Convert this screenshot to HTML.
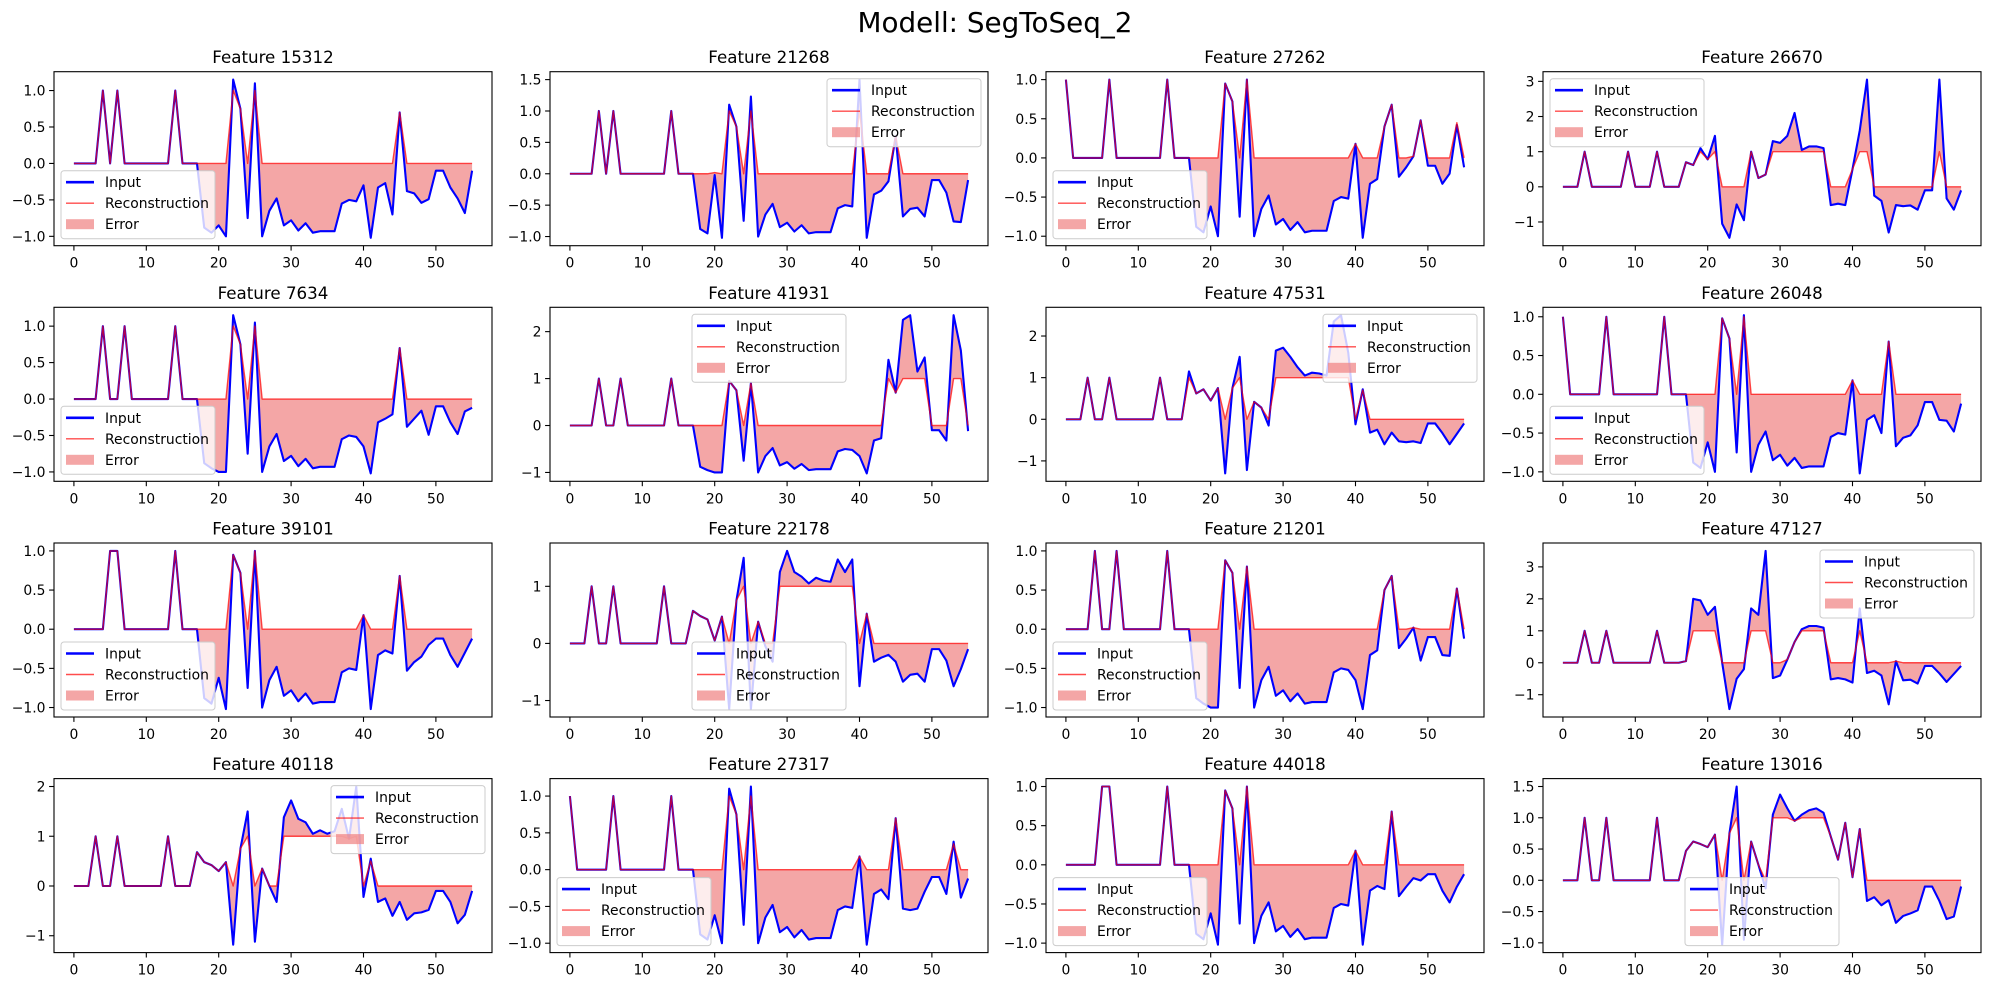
<!DOCTYPE html>
<html>
<head>
<meta charset="utf-8">
<style>
  html,body{margin:0;padding:0;background:#fff;}
  svg{display:block;font-family:"DejaVu Sans","Liberation Sans",sans-serif;}
</style>
</head>
<body>
<svg id="fig" width="1990" height="985" viewBox="0 0 1990 985" xmlns="http://www.w3.org/2000/svg">
  <rect x="0" y="0" width="1990" height="985" fill="#fff"/>
  <text x="995" y="32" text-anchor="middle" font-size="27.8" fill="#000">Modell: SegToSeq_2</text>
</svg>
<script>
// ---- data ----
const featureNames = ["Feature 15312","Feature 21268","Feature 27262","Feature 26670","Feature 7634","Feature 41931","Feature 47531","Feature 26048","Feature 39101","Feature 22178","Feature 21201","Feature 47127","Feature 40118","Feature 27317","Feature 44018","Feature 13016"];
const legendLoc = ["lower left","upper right","lower left","upper left","lower left","upper center","upper right","lower left","lower left","lower center","lower left","upper right","upper right","lower left","lower left","lower center"];
const yTickStep = [0.5,0.5,0.5,1,0.5,1,1,0.5,0.5,1,0.5,1,1,0.5,0.5,0.5];
const xTickValues = [0,10,20,30,40,50];

const input1 = [0,0,0,0,1,0,1,0,0,0, 0,0,0,0,1,0,0,0,-0.88,-0.95, -0.85,-1.0,1.15,0.75,-0.75,1.1,-1.0,-0.65,-0.48,-0.85, -0.78,-0.92,-0.82,-0.95,-0.93,-0.93,-0.93,-0.55,-0.5,-0.52, -0.3,-1.02,-0.33,-0.27,-0.7,0.7,-0.38,-0.41,-0.54,-0.49, -0.1,-0.1,-0.33,-0.48,-0.68,-0.1];
const recon1 = [0,0,0,0,1,0,1,0,0,0, 0,0,0,0,1,0,0,0,0,0, 0,0,1,0.75,0,1,0,0,0,0, 0,0,0,0,0,0,0,0,0,0, 0,0,0,0,0,0.7,0,0,0,0, 0,0,0,0,0,0];
const input2 = [0,0,0,0,1,0,1,0,0,0, 0,0,0,0,1,0,0,0,-0.88,-0.95, -0.02,-1.02,1.1,0.75,-0.75,1.23,-1.0,-0.65,-0.48,-0.85, -0.78,-0.92,-0.82,-0.95,-0.93,-0.93,-0.93,-0.55,-0.5,-0.52, 1.5,-1.02,-0.33,-0.27,-0.12,0.6,-0.68,-0.56,-0.54,-0.68, -0.1,-0.1,-0.3,-0.76,-0.77,-0.1];
const recon2 = [0,0,0,0,1,0,1,0,0,0, 0,0,0,0,1,0,0,0,0,0, 0.02,0,1,0.75,0,1,0,0,0,0, 0,0,0,0,0,0,0,0,0,0, 1,0,0,0,0,0.6,0,0,0,0, 0,0,0,0,0,0];
const input3 = [1,0,0,0,0,0,1,0,0,0, 0,0,0,0,1,0,0,0,-0.88,-0.95, -0.62,-1.0,0.95,0.72,-0.75,1.0,-1.0,-0.65,-0.48,-0.85, -0.78,-0.92,-0.82,-0.95,-0.93,-0.93,-0.93,-0.55,-0.5,-0.52, 0.18,-1.02,-0.33,-0.27,0.4,0.68,-0.24,-0.12,0.02,0.48, -0.1,-0.1,-0.33,-0.2,0.42,-0.12];
const recon3 = [1,0,0,0,0,0,1,0,0,0, 0,0,0,0,1,0,0,0,0,0, 0,0,0.95,0.72,0,1,0,0,0,0, 0,0,0,0,0,0,0,0,0,0, 0.18,0,0,0,0.4,0.68,0,0,0.02,0.48, 0,0,0,0,0.45,0];
const input4 = [0,0,0,1,0,0,0,0,0,1, 0,0,0,1,0,0,0,0.7,0.62,1.1, 0.78,1.45,-1.05,-1.45,-0.5,-0.95,1.0,0.25,0.35,1.3, 1.25,1.45,2.1,1.05,1.15,1.15,1.1,-0.52,-0.48,-0.52, 0.5,1.6,3.05,-0.25,-0.4,-1.3,-0.52,-0.55,-0.53,-0.65, -0.1,-0.1,3.05,-0.33,-0.65,-0.1];
const recon4 = [0,0,0,1,0,0,0,0,0,1, 0,0,0,1,0,0,0,0.7,0.62,1, 0.78,1,0,0,0,0,1,0.25,0.35,1, 1,1,1,1,1,1,1,0,0,0, 0.5,1,1,0,0,0,0,0,0,0, 0,0,1,0,0,0];
const input5 = [0,0,0,0,1,0,0,1,0,0, 0,0,0,0,1,0,0,0,-0.88,-0.95, -1.0,-1.0,1.15,0.75,-0.75,1.05,-1.0,-0.65,-0.48,-0.85, -0.78,-0.92,-0.82,-0.95,-0.93,-0.93,-0.93,-0.55,-0.5,-0.52, -0.65,-1.02,-0.32,-0.27,-0.21,0.7,-0.38,-0.27,-0.16,-0.49, -0.1,-0.1,-0.32,-0.48,-0.17,-0.12];
const recon5 = [0,0,0,0,1,0,0,1,0,0, 0,0,0,0,1,0,0,0,0,0, 0,0,1,0.75,0,1,0,0,0,0, 0,0,0,0,0,0,0,0,0,0, 0,0,0,0,0,0.7,0,0,0,0, 0,0,0,0,0,0];
const input6 = [0,0,0,0,1,0,0,1,0,0, 0,0,0,0,1,0,0,0,-0.88,-0.95, -1.0,-1.0,0.95,0.75,-0.75,0.9,-1.0,-0.65,-0.48,-0.85, -0.78,-0.92,-0.82,-0.95,-0.93,-0.93,-0.93,-0.55,-0.5,-0.52, -0.65,-1.02,-0.32,-0.27,1.4,0.7,2.25,2.35,1.15,1.45, -0.1,-0.1,-0.32,2.35,1.6,-0.12];
const recon6 = [0,0,0,0,1,0,0,1,0,0, 0,0,0,0,1,0,0,0,0,0, 0,0,0.95,0.75,0,0.9,0,0,0,0, 0,0,0,0,0,0,0,0,0,0, 0,0,0,0,1,0.7,1,1,1,1, 0,0,0,1,1,0];
const input7 = [0,0,0,1,0,0,1,0,0,0, 0,0,0,1,0,0,0,1.15,0.62,0.72, 0.45,0.75,-1.3,0.75,1.5,-1.22,0.42,0.28,-0.15,1.65, 1.72,1.5,1.25,1.05,1.12,1.1,1.05,2.35,2.5,1.6, -0.12,0.72,-0.32,-0.25,-0.6,-0.32,-0.53,-0.55,-0.53,-0.57, -0.1,-0.1,-0.33,-0.6,-0.35,-0.1];
const recon7 = [0,0,0,1,0,0,1,0,0,0, 0,0,0,1,0,0,0,1,0.62,0.72, 0.45,0.75,0,0.75,1,0,0.42,0.28,0,1, 1,1,1,1,1,1,1,1,1,1, 0,0.7,0,0,0,0,0,0,0,0, 0,0,0,0,0,0];
const input8 = [1,0,0,0,0,0,1,0,0,0, 0,0,0,0,1,0,0,0,-0.88,-0.95, -0.62,-1.0,0.98,0.72,-0.75,1.02,-1.0,-0.65,-0.48,-0.85, -0.78,-0.92,-0.82,-0.95,-0.93,-0.93,-0.93,-0.55,-0.5,-0.52, 0.18,-1.02,-0.33,-0.27,-0.5,0.68,-0.67,-0.56,-0.53,-0.4, -0.1,-0.1,-0.33,-0.34,-0.48,-0.12];
const recon8 = [1,0,0,0,0,0,1,0,0,0, 0,0,0,0,1,0,0,0,0,0, 0,0,0.98,0.72,0,1,0,0,0,0, 0,0,0,0,0,0,0,0,0,0, 0.18,0,0,0,0,0.68,0,0,0,0, 0,0,0,0,0,0];
const input9 = [0,0,0,0,0,1,1,0,0,0, 0,0,0,0,1,0,0,0,-0.88,-0.95, -0.62,-1.02,0.95,0.72,-0.75,1.0,-1.0,-0.65,-0.48,-0.85, -0.78,-0.92,-0.82,-0.95,-0.93,-0.93,-0.93,-0.55,-0.5,-0.52, 0.18,-1.02,-0.33,-0.27,-0.31,0.68,-0.53,-0.42,-0.35,-0.2, -0.12,-0.12,-0.33,-0.48,-0.3,-0.12];
const recon9 = [0,0,0,0,0,1,1,0,0,0, 0,0,0,0,1,0,0,0,0,0, 0,0,0.95,0.72,0,1,0,0,0,0, 0,0,0,0,0,0,0,0,0,0, 0.18,0,0,0,0,0.68,0,0,0,0, 0,0,0,0,0,0];
const input10 = [0,0,0,1,0,0,1,0,0,0, 0,0,0,1,0,0,0,0.57,0.48,0.42, 0.05,0.47,-1.15,0.75,1.5,-1.15,0.38,-0.05,-0.32,1.25, 1.62,1.25,1.17,1.05,1.15,1.1,1.08,1.47,1.25,1.47, -0.75,0.52,-0.32,-0.25,-0.2,-0.32,-0.67,-0.55,-0.53,-0.67, -0.1,-0.1,-0.3,-0.75,-0.45,-0.1];
const recon10 = [0,0,0,1,0,0,1,0,0,0, 0,0,0,1,0,0,0,0.57,0.48,0.42, 0.05,0.47,0,0.75,1,0,0.38,0,0,1, 1,1,1,1,1,1,1,1,1,1, 0,0.52,0,0,0,0,0,0,0,0, 0,0,0,0,0,0];
const input11 = [0,0,0,0,1,0,0,1,0,0, 0,0,0,0,1,0,0,0,-0.88,-0.95, -1.0,-1.0,0.88,0.72,-0.75,0.8,-1.0,-0.65,-0.48,-0.85, -0.78,-0.92,-0.82,-0.95,-0.93,-0.93,-0.93,-0.55,-0.5,-0.52, -0.65,-1.02,-0.33,-0.27,0.5,0.68,-0.24,-0.12,0.02,-0.4, -0.1,-0.1,-0.33,-0.34,0.52,-0.12];
const recon11 = [0,0,0,0,1,0,0,1,0,0, 0,0,0,0,1,0,0,0,0,0, 0,0,0.88,0.72,0,0.8,0,0,0,0, 0,0,0,0,0,0,0,0,0,0, 0,0,0,0,0.5,0.68,0,0,0.02,0, 0,0,0,0,0.52,0];
const input12 = [0,0,0,1,0,0,1,0,0,0, 0,0,0,1,0,0,0,0.05,2.0,1.95, 1.5,1.75,0,-1.45,-0.5,-0.2,1.7,1.5,3.5,-0.48, -0.4,0.1,0.65,1.05,1.15,1.15,1.1,-0.52,-0.48,-0.52, -0.62,1.7,-0.32,-0.25,-0.4,-1.3,0.05,-0.55,-0.53,-0.65, -0.1,-0.1,-0.33,-0.6,-0.35,-0.1];
const recon12 = [0,0,0,1,0,0,1,0,0,0, 0,0,0,1,0,0,0,0.05,1,1, 1,1,0,0,0,0,1,1,1,0, 0,0.1,0.65,1,1,1,1,0,0,0, 0,1,0,0,0,0,0.05,0,0,0, 0,0,0,0,0,0];
const input13 = [0,0,0,1,0,0,1,0,0,0, 0,0,0,1,0,0,0,0.68,0.48,0.42, 0.3,0.48,-1.18,0.75,1.5,-1.12,0.35,0,-0.32,1.38, 1.72,1.35,1.28,1.05,1.12,1.05,1.1,1.55,0.95,2.0, -0.22,0.55,-0.32,-0.25,-0.6,-0.32,-0.68,-0.55,-0.53,-0.48, -0.1,-0.1,-0.32,-0.75,-0.58,-0.1];
const recon13 = [0,0,0,1,0,0,1,0,0,0, 0,0,0,1,0,0,0,0.68,0.48,0.42, 0.3,0.48,0,0.75,1,0,0.35,0,0,1, 1,1,1,1,1,1,1,1,0.95,1, 0,0.5,0,0,0,0,0,0,0,0, 0,0,0,0,0,0];
const input14 = [1,0,0,0,0,0,1,0,0,0, 0,0,0,0,1,0,0,0,-0.88,-0.95, -0.62,-1.0,1.1,0.75,-0.75,1.13,-1.0,-0.65,-0.48,-0.85, -0.78,-0.92,-0.82,-0.95,-0.93,-0.93,-0.93,-0.55,-0.5,-0.52, 0.18,-1.02,-0.33,-0.27,-0.4,0.7,-0.53,-0.55,-0.53,-0.3, -0.1,-0.1,-0.33,0.38,-0.38,-0.12];
const recon14 = [1,0,0,0,0,0,1,0,0,0, 0,0,0,0,1,0,0,0,0,0, 0,0,1,0.75,0,1,0,0,0,0, 0,0,0,0,0,0,0,0,0,0, 0.18,0,0,0,0,0.7,0,0,0,0, 0,0,0,0.35,0,0];
const input15 = [0,0,0,0,0,1,1,0,0,0, 0,0,0,0,1,0,0,0,-0.88,-0.95, -0.62,-1.02,0.95,0.72,-0.75,1.0,-1.0,-0.65,-0.48,-0.85, -0.78,-0.92,-0.82,-0.95,-0.93,-0.93,-0.93,-0.55,-0.5,-0.52, 0.18,-1.02,-0.33,-0.27,-0.31,0.68,-0.4,-0.28,-0.17,-0.2, -0.12,-0.12,-0.33,-0.48,-0.28,-0.12];
const recon15 = [0,0,0,0,0,1,1,0,0,0, 0,0,0,0,1,0,0,0,0,0, 0,0,0.95,0.72,0,1,0,0,0,0, 0,0,0,0,0,0,0,0,0,0, 0.18,0,0,0,0,0.68,0,0,0,0, 0,0,0,0,0,0];
const input16 = [0,0,0,1,0,0,1,0,0,0, 0,0,0,1,0,0,0,0.47,0.62,0.58, 0.53,0.73,-1.03,0.75,1.5,-0.95,0.62,0.25,-0.13,1.05, 1.37,1.15,0.95,1.05,1.12,1.15,1.08,0.7,0.33,0.92, 0.05,0.82,-0.33,-0.27,-0.4,-0.32,-0.68,-0.57,-0.53,-0.48, -0.1,-0.1,-0.33,-0.62,-0.58,-0.1];
const recon16 = [0,0,0,1,0,0,1,0,0,0, 0,0,0,1,0,0,0,0.47,0.62,0.58, 0.53,0.73,0,0.75,1,0,0.62,0.25,0,1, 1,1,0.95,1,1,1,1,0.7,0.33,0.92, 0.05,0.82,0,0,0,0,0,0,0,0, 0,0,0,0,0,0];

const inputs = [input1,input2,input3,input4,input5,input6,input7,input8,input9,input10,input11,input12,input13,input14,input15,input16];
const recons = [recon1,recon2,recon3,recon4,recon5,recon6,recon7,recon8,recon9,recon10,recon11,recon12,recon13,recon14,recon15,recon16];

// ---- layout ----
const NS = "http://www.w3.org/2000/svg";
const fig = document.getElementById("fig");
const colLeft = [54, 550, 1046, 1543];
const rowTop = [71.7, 307.3, 543, 778.6];
const AW = 438, AH = 174;

function mk(tag, attrs, parent) {
  const e = document.createElementNS(NS, tag);
  for (const k in attrs) e.setAttribute(k, attrs[k]);
  parent.appendChild(e);
  return e;
}
function fmt(v, step) {
  let s = step < 1 ? v.toFixed(1) : String(Math.round(v));
  if (v < 0) s = "\u2212" + s.replace("-", "");
  return s;
}

for (let p = 0; p < 16; p++) {
  const L = colLeft[p % 4], T = rowTop[Math.floor(p / 4)], R = L + AW, B = T + AH;
  const inp = inputs[p], rec = recons[p];
  const n = inp.length;
  const all = inp.concat(rec);
  let lo = Math.min(...all), hi = Math.max(...all);
  const m = (hi - lo) * 0.05; lo -= m; hi += m;
  const xlo = -0.05 * (n - 1), xhi = (n - 1) * 1.05;
  const sx = v => L + (v - xlo) / (xhi - xlo) * AW;
  const sy = v => B - (v - lo) / (hi - lo) * AH;

  const g = mk("g", {}, fig);
  
  

  const clipId = "clip" + p;
  const cp = mk("clipPath", {id: clipId}, g);
  mk("rect", {x: L, y: T, width: AW, height: AH}, cp);

  const bg = mk("rect", {x: L, y: T, width: AW, height: AH, fill: "#fff"}, g);
  
  

  const plot = mk("g", {"clip-path": "url(#" + clipId + ")"}, g);
  // error fill
  let pts = [];
  for (let i = 0; i < n; i++) pts.push(sx(i).toFixed(2) + "," + sy(inp[i]).toFixed(2));
  for (let i = n - 1; i >= 0; i--) pts.push(sx(i).toFixed(2) + "," + sy(rec[i]).toFixed(2));
  const fill = mk("polygon", {points: pts.join(" "), fill: "rgb(240,128,128)", "fill-opacity": "0.7", stroke: "none"}, plot);
  
  
  // input line
  const ip = [];
  for (let i = 0; i < n; i++) ip.push(sx(i).toFixed(2) + "," + sy(inp[i]).toFixed(2));
  const li = mk("polyline", {points: ip.join(" "), fill: "none", stroke: "#0000ff", "stroke-width": "2.1", "stroke-linejoin": "round"}, plot);
  
  
  // reconstruction line
  const rp = [];
  for (let i = 0; i < n; i++) rp.push(sx(i).toFixed(2) + "," + sy(rec[i]).toFixed(2));
  const lr = mk("polyline", {points: rp.join(" "), fill: "none", stroke: "#ff0000", "stroke-opacity": "0.7", "stroke-width": "1.4", "stroke-linejoin": "round"}, plot);
  
  

  // spines
  const sp = mk("rect", {x: L, y: T, width: AW, height: AH, fill: "none", stroke: "#000", "stroke-width": "1.1"}, g);
  
  

  // x ticks
  for (const v of xTickValues) {
    const x = sx(v);
    const t = mk("line", {x1: x, y1: B, x2: x, y2: B + 4.9, stroke: "#000", "stroke-width": "1.1"}, g);
    
    
    const tl = mk("text", {x: x, y: B + 22, "text-anchor": "middle", "font-size": "13.9", fill: "#000"}, g);
    tl.textContent = String(v);
    
    
  }
  // y ticks
  const st = yTickStep[p];
  for (let k = Math.ceil(lo / st); k * st <= hi + 1e-9; k++) {
    const v = k * st, y = sy(v);
    const t = mk("line", {x1: L - 4.9, y1: y, x2: L, y2: y, stroke: "#000", "stroke-width": "1.1"}, g);
    
    
    const tl = mk("text", {x: L - 8.5, y: y + 5, "text-anchor": "end", "font-size": "13.9", fill: "#000"}, g);
    tl.textContent = fmt(v, st);
    
    
  }
  // title
  const tt = mk("text", {x: L + AW / 2, y: T - 8.5, "text-anchor": "middle", "font-size": "16.7", fill: "#000"}, g);
  tt.textContent = featureNames[p];
  
  

  // legend
  const LW = 154, LH = 68, pad = 7;
  const loc = legendLoc[p];
  let lx = L + pad, ly = B - pad - LH;
  if (loc.indexOf("upper") === 0) ly = T + pad;
  if (loc.indexOf("right") > 0) lx = R - pad - LW;
  if (loc.indexOf("center") > 0) lx = L + AW / 2 - LW / 2;
  const lg = mk("g", {}, g);
  
  
  mk("rect", {x: lx, y: ly, width: LW, height: LH, rx: 3, fill: "#fff", "fill-opacity": "0.8", stroke: "#cccccc", "stroke-width": "1"}, lg);
  const rows = [ly + 11.5, ly + 32.5, ly + 53.5];
  const e1 = mk("g", {}, lg);
  
  
  mk("line", {x1: lx + 5, y1: rows[0], x2: lx + 33, y2: rows[0], stroke: "#0000ff", "stroke-width": "2.6"}, e1);
  const t1 = mk("text", {x: lx + 44, y: rows[0] + 5, "font-size": "13.9", fill: "#000"}, e1); t1.textContent = "Input";
  const e2 = mk("g", {}, lg);
  
  
  mk("line", {x1: lx + 5, y1: rows[1], x2: lx + 33, y2: rows[1], stroke: "#ff0000", "stroke-opacity": "0.7", "stroke-width": "1.4"}, e2);
  const t2 = mk("text", {x: lx + 44, y: rows[1] + 5, "font-size": "13.9", fill: "#000"}, e2); t2.textContent = "Reconstruction";
  const e3 = mk("g", {}, lg);
  
  
  mk("rect", {x: lx + 5, y: rows[2] - 5, width: 28, height: 10, fill: "rgb(240,128,128)", "fill-opacity": "0.7"}, e3);
  const t3 = mk("text", {x: lx + 44, y: rows[2] + 5, "font-size": "13.9", fill: "#000"}, e3); t3.textContent = "Error";
}
</script>
</body>
</html>
